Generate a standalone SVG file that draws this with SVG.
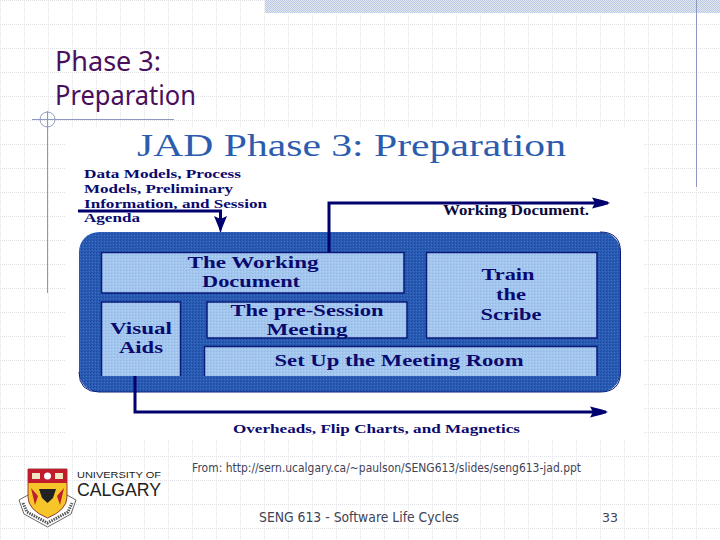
<svg xmlns="http://www.w3.org/2000/svg" width="720" height="540" viewBox="0 0 720 540">
<style>
.title{font-size:27px;fill:#4a0f5c;font-family:"Noto Sans","DejaVu Sans",sans-serif}
.foot{fill:#3f4356;font-family:"DejaVu Sans","Liberation Sans",sans-serif}
.b{font-family:"Liberation Serif",serif;font-weight:bold;fill:#0a0a6e;font-size:13.500px}
.t{font-size:16.500px}
.fill{fill:url(#light)}
.edge{fill:none;stroke:#0a1a78;stroke-width:1.500}
.wire{fill:none;stroke:#00006e;stroke-width:3}
.deco{stroke:#8d98c2;stroke-width:1;fill:none}
</style>
<defs>
<pattern id="grid" width="24" height="24" patternUnits="userSpaceOnUse">
<path d="M0 0.500H24M0.500 0V24" stroke="#dfe1e6" stroke-width="1" stroke-dasharray="1 1" fill="none"/>
</pattern>
<pattern id="hatch" width="2" height="2" patternUnits="userSpaceOnUse">
<rect width="2" height="2" fill="#e2e8f2"/><rect width="1" height="1" fill="#bcc8e0"/><rect x="1" y="1" width="1" height="1" fill="#bcc8e0"/>
</pattern>
<pattern id="dark" width="3" height="3" patternUnits="userSpaceOnUse">
<rect width="3" height="3" fill="#2a5cb4"/><rect width="1" height="1" fill="#1b469f"/><rect x="2" y="1" width="1" height="1" fill="#3c70c6"/><rect x="1" y="2" width="1" height="1" fill="#1f4ea8"/>
</pattern>
<pattern id="light" width="3" height="3" patternUnits="userSpaceOnUse">
<rect width="3" height="3" fill="#a3c6ee"/><rect width="1" height="1" fill="#8fb6e4"/><rect x="2" y="1" width="1" height="1" fill="#b4d2f4"/>
</pattern>
<marker id="arrow" viewBox="0 0 18 12" refX="16" refY="6" markerWidth="18" markerHeight="12" markerUnits="userSpaceOnUse" orient="auto">
<path d="M0 0.500L12 3.500L18 6L12 8.500L0 11.500L3 6Z" fill="#00006e"/>
</marker>
<marker id="arrowDown" viewBox="0 0 14 16" refX="7" refY="13" markerWidth="14" markerHeight="16" markerUnits="userSpaceOnUse">
<path d="M0.500 0L7 3L13.500 0L9 11L7.500 16H6.500L5 11Z" fill="#00006e"/>
</marker>
</defs>

<g id="background">
<rect width="720" height="540" fill="#fff"/>
<rect width="720" height="540" fill="url(#grid)"/>
<rect x="265" y="0" width="455" height="13" fill="url(#hatch)"/>
<path class="deco" d="M696.500 0V187M47.500 111V293M32 119.500H174"/>
<circle class="deco" cx="47.500" cy="119.500" r="7.500"/>
</g>

<g id="slide-title" class="title">
<text x="55" y="71" textLength="106" lengthAdjust="spacingAndGlyphs">Phase 3:</text>
<text x="55" y="105" textLength="141" lengthAdjust="spacingAndGlyphs">Preparation</text>
</g>

<rect id="picture" x="65" y="127" width="578" height="312" fill="#fff"/>

<g id="picture-title">
<text x="137" y="156" font-family="Liberation Serif,serif" font-size="31" fill="#2c5cae" textLength="429" lengthAdjust="spacingAndGlyphs">JAD Phase 3: Preparation</text>
</g>

<g id="input-labels" class="b">
<text x="84" y="178" textLength="157" lengthAdjust="spacingAndGlyphs">Data Models, Process</text>
<text x="84" y="192.500" textLength="149" lengthAdjust="spacingAndGlyphs">Models, Preliminary</text>
<text x="84" y="207.500" textLength="183" lengthAdjust="spacingAndGlyphs">Information, and Session</text>
<text x="84" y="222" textLength="56" lengthAdjust="spacingAndGlyphs">Agenda</text>
</g>

<g id="container">
<rect x="79" y="232" width="541.500" height="160" rx="20" fill="url(#dark)"/>
<path class="edge" style="stroke-width:1" d="M600 232Q620.500 232 620.500 252V372Q620.500 392 600 392H99Q79 392 79 372"/>
</g>

<g id="working-document">
<rect class="fill" x="101.500" y="252.500" width="302.500" height="40.500"/>
<path class="edge" d="M101.500 293V252.500H404V293H101.500"/>
<text class="b t" x="253" y="268" text-anchor="middle" textLength="131" lengthAdjust="spacingAndGlyphs">The Working</text>
<text class="b t" x="251" y="287" text-anchor="middle" textLength="98" lengthAdjust="spacingAndGlyphs">Document</text>
</g>
<g id="visual-aids">
<rect class="fill" x="101.500" y="302" width="79" height="74"/>
<path class="edge" d="M101.500 376V302H180.500V376"/>
<text class="b t" x="141" y="334" text-anchor="middle" textLength="62" lengthAdjust="spacingAndGlyphs">Visual</text>
<text class="b t" x="141" y="353" text-anchor="middle" textLength="44" lengthAdjust="spacingAndGlyphs">Aids</text>
</g>
<g id="pre-session">
<rect class="fill" x="207" y="302" width="200" height="36"/>
<path class="edge" d="M207 338V302H407V338H207"/>
<text class="b t" x="307" y="316" text-anchor="middle" textLength="153" lengthAdjust="spacingAndGlyphs">The pre-Session</text>
<text class="b t" x="307" y="335" text-anchor="middle" textLength="81" lengthAdjust="spacingAndGlyphs">Meeting</text>
</g>
<g id="train-scribe">
<rect class="fill" x="426.500" y="252.500" width="170.500" height="85.500"/>
<path class="edge" d="M426.500 338V252.500H597V338H426.500"/>
<text class="b t" x="508" y="280" text-anchor="middle" textLength="53" lengthAdjust="spacingAndGlyphs">Train</text>
<text class="b t" x="511" y="300" text-anchor="middle" textLength="30" lengthAdjust="spacingAndGlyphs">the</text>
<text class="b t" x="511" y="320" text-anchor="middle" textLength="61" lengthAdjust="spacingAndGlyphs">Scribe</text>
</g>
<g id="meeting-room">
<rect class="fill" x="204.500" y="346.500" width="392.500" height="29.500"/>
<path class="edge" d="M204.500 376V346.500H597V376"/>
<text class="b t" x="399" y="366" text-anchor="middle" textLength="249" lengthAdjust="spacingAndGlyphs">Set Up the Meeting Room</text>
</g>

<g id="connectors">
<path class="wire" d="M78 211H220.500V229" marker-end="url(#arrowDown)"/>
<path class="wire" d="M329 252V203H608" marker-end="url(#arrow)"/>
<path class="wire" d="M135 376V412H606" marker-end="url(#arrow)"/>
</g>

<g id="output-labels" class="b">
<text x="443" y="215" textLength="146" lengthAdjust="spacingAndGlyphs" style="fill:#0a0a3e;font-size:14px">Working Document.</text>
<text x="233" y="433" textLength="287" lengthAdjust="spacingAndGlyphs">Overheads, Flip Charts, and Magnetics</text>
</g>

<g id="logo">
<path d="M19 500L28 495L47.500 512L67 495L76 500L71 514L47.500 527L24 514Z" fill="#fff" stroke="#666" stroke-width="1"/>
<path d="M23 503L27 512L47.500 523L68 512L72 503" fill="none" stroke="#555" stroke-width="3" stroke-dasharray="1.500 1"/>
<path d="M28 469H67V497Q67 510 47.500 518Q28 510 28 497Z" fill="#f5c52a" stroke="#7a1a20" stroke-width="0.800"/>
<rect x="28" y="469" width="39" height="14" fill="#c01c2c"/>
<rect x="32" y="473" width="8" height="6" fill="#efe6c0"/><circle cx="47.500" cy="476" r="3.500" fill="#fff"/><rect x="55" y="473" width="8" height="6" fill="#efe6c0"/>
<path d="M31 488L38 496L35 505ZM64 488L57 496L60 505Z" fill="#c01c2c"/>
<path d="M39 489L56 489L53 498L47.500 503L42 498Z" fill="#222"/>
<text x="77" y="478" font-family="Liberation Sans,sans-serif" font-size="9.500" fill="#222" textLength="84" lengthAdjust="spacingAndGlyphs">UNIVERSITY OF</text>
<text x="77" y="496" font-family="Liberation Sans,sans-serif" font-size="18" fill="#222" textLength="84" lengthAdjust="spacingAndGlyphs">CALGARY</text>
</g>

<g id="footer" class="foot">
<text x="192" y="472" font-size="11.500" textLength="389" lengthAdjust="spacingAndGlyphs">From: http://sern.ucalgary.ca/~paulson/SENG613/slides/seng613-jad.ppt</text>
<text x="259" y="522" font-size="13.500" textLength="200" lengthAdjust="spacingAndGlyphs">SENG 613 - Software Life Cycles</text>
<text x="602" y="522" font-size="13" textLength="16" lengthAdjust="spacingAndGlyphs">33</text>
</g>
</svg>
